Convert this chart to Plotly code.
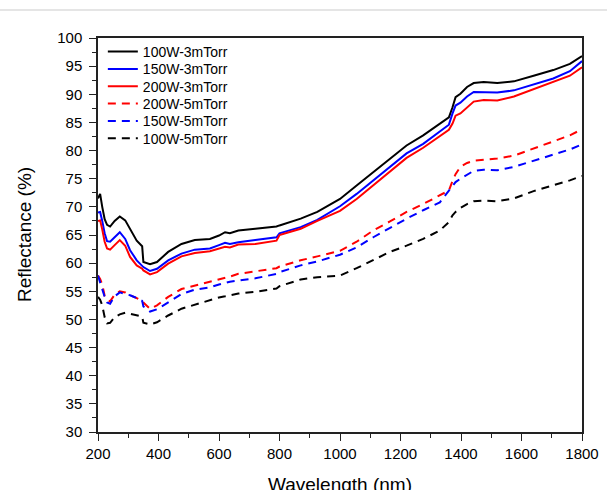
import plotly.graph_objects as go

wavelength = [200, 207, 214, 222, 230, 240, 255, 272, 290, 306, 328, 346, 350, 372, 395, 432,
              476, 520, 570, 600, 620, 636, 664, 720, 790, 800, 870, 925, 1000, 1055, 1110, 1165,
              1220, 1275, 1330, 1360, 1372, 1382, 1398, 1420, 1442, 1475, 1520, 1575, 1640, 1705,
              1760, 1800]

r_100w_3m = [71.5, 72.3, 70.0, 67.8, 66.8, 66.5, 67.5, 68.3, 67.6, 66.1, 64.0, 63.0, 60.2, 59.8, 60.2, 62.0,
             63.4, 64.1, 64.3, 64.9, 65.5, 65.3, 65.8, 66.1, 66.5, 66.7, 67.9, 69.1, 71.4, 73.8, 76.2, 78.5,
             80.9, 82.7, 84.8, 85.9, 87.7, 89.5, 90.1, 91.3, 92.0, 92.2, 92.0, 92.3, 93.3, 94.3,
             95.4, 96.8]
r_150w_3m = [69.0, 69.1, 67.5, 65.3, 63.9, 63.8, 64.6, 65.5, 64.3, 62.3, 60.5, 59.6, 59.3, 58.6, 59.0, 60.5,
             61.7, 62.4, 62.6, 63.2, 63.6, 63.4, 63.7, 64.1, 64.6, 65.3, 66.4, 67.7, 70.1, 72.3, 74.7, 77.2,
             79.5, 81.2, 83.3, 84.6, 86.6, 88.0, 88.5, 89.6, 90.4, 90.4, 90.3, 90.7, 91.7, 92.8,
             94.1, 95.9]
r_200w_3m = [67.5, 67.6, 66.0, 63.8, 62.6, 62.4, 63.2, 64.1, 63.1, 61.1, 59.6, 59.0, 58.7, 58.0, 58.4, 59.9,
             61.2, 61.8, 62.1, 62.6, 62.9, 62.8, 63.3, 63.4, 64.0, 65.0, 66.1, 67.5, 69.3, 71.4, 73.8, 76.3,
             78.7, 80.5, 82.5, 83.7, 84.8, 86.2, 86.6, 87.6, 88.7, 89.0, 88.9, 89.6, 90.9, 92.1,
             93.3, 94.8]
r_200w_5m = [57.8, 57.2, 56.2, 54.2, 53.5, 53.2, 54.4, 55.0, 54.8, 54.3, 53.8, 53.3, 53.0, 51.9, 52.5, 54.0,
             55.4, 56.0, 56.6, 57.1, 57.4, 57.6, 58.1, 58.5, 59.1, 59.4, 60.5, 61.2, 62.2, 63.8, 65.8, 67.4,
             69.1, 70.5, 72.0, 72.9, 74.6, 75.8, 77.1, 77.8, 78.2, 78.4, 78.6, 79.1, 80.4, 81.6,
             82.7, 83.8]
r_150w_5m = [57.8, 56.5, 55.3, 54.0, 53.0, 52.8, 54.1, 54.8, 54.5, 54.3, 53.8, 53.3, 52.3, 51.4, 51.8, 53.1,
             54.5, 55.3, 55.7, 56.2, 56.5, 56.7, 56.9, 57.3, 58.1, 58.4, 59.6, 60.3, 61.5, 62.8, 64.6, 66.3,
             67.9, 69.4, 70.8, 72.9, 73.8, 74.4, 75.0, 75.7, 76.4, 76.6, 76.5, 77.1, 78.2, 79.4,
             80.2, 81.1]
r_100w_5m = [54.0, 53.5, 52.5, 50.4, 49.3, 49.4, 50.4, 50.9, 51.2, 51.0, 50.7, 50.5, 49.4, 49.1, 49.5, 50.7,
             51.9, 52.6, 53.5, 53.9, 54.1, 54.3, 54.6, 54.9, 55.5, 55.9, 57.1, 57.5, 57.8, 59.1, 60.5, 62.0,
             63.1, 64.3, 65.8, 67.3, 68.5, 69.1, 69.8, 70.5, 71.0, 71.1, 71.0, 71.5, 72.8, 73.8,
             74.7, 75.5]

series = [
    ("100W-3mTorr", r_100w_3m, "#000000", "solid"),
    ("150W-3mTorr", r_150w_3m, "#0000ff", "solid"),
    ("200W-3mTorr", r_200w_3m, "#ff0000", "solid"),
    ("200W-5mTorr", r_200w_5m, "#ff0000", "8px,6px"),
    ("150W-5mTorr", r_150w_5m, "#0000ff", "8px,6px"),
    ("100W-5mTorr", r_100w_5m, "#000000", "8px,6px"),
]

x_ticks = list(range(200, 1801, 200))
y_ticks = list(range(30, 101, 5))

FONT = "Liberation Sans, Arial, sans-serif"

fig = go.Figure()
legend_ids = ["legend", "legend2", "legend3", "legend4", "legend5", "legend6"]
for (name, vals, color, dash), lid in zip(series, legend_ids):
    fig.add_trace(go.Scatter(x=wavelength, y=vals, mode="lines", name=name, legend=lid,
                             line=dict(color=color, width=2, dash=dash)))

axis_common = dict(showgrid=False, zeroline=False, showline=True, linecolor="#222222",
                   linewidth=1.5, mirror=True, ticks="outside", ticklen=7, tickwidth=1.2,
                   tickcolor="#222222", tickfont=dict(family=FONT, size=15, color="#000000"))

fig.update_xaxes(range=[200, 1800], tickvals=x_ticks,
                 minor=dict(dtick=100, tick0=200, ticks="outside", ticklen=4, tickcolor="#222222"),
                 **axis_common)
fig.update_yaxes(range=[30, 100], tickvals=y_ticks, ticklabelstandoff=4,
                 minor=dict(dtick=2.5, tick0=30, ticks="outside", ticklen=4, tickcolor="#222222"),
                 **axis_common)

fig.add_annotation(text="Wavelength (nm)", xref="paper", yref="paper", x=0.5, y=0,
                   yshift=-52, yanchor="middle", showarrow=False,
                   font=dict(family=FONT, size=19, color="#000000"))
fig.add_annotation(text="Reflectance (%)", xref="paper", yref="paper", x=0, y=0.5,
                   xshift=-74, textangle=-90, xanchor="center", showarrow=False,
                   font=dict(family=FONT, size=19, color="#000000"))

fig.add_shape(type="line", xref="paper", yref="paper", x0=-0.25, x1=1.1, y0=1.071, y1=1.071,
              line=dict(color="#dcdcdc", width=1.5))

legend_rows_y = [0.9645, 0.9205, 0.8765, 0.8325, 0.7885, 0.7445]
legend_layout = {}
for lid, ly in zip(legend_ids, legend_rows_y):
    legend_layout[lid] = dict(x=0.01, y=ly, xanchor="left", yanchor="middle",
                              bgcolor="rgba(0,0,0,0)",
                              font=dict(family=FONT, size=14, color="#000000"),
                              itemwidth=30)

fig.update_layout(
    width=607, height=490,
    margin=dict(l=98, r=25, t=38, b=58, autoexpand=False),
    paper_bgcolor="white", plot_bgcolor="white",
    showlegend=True,
    **legend_layout,
)

fig.write_html("out.html")
